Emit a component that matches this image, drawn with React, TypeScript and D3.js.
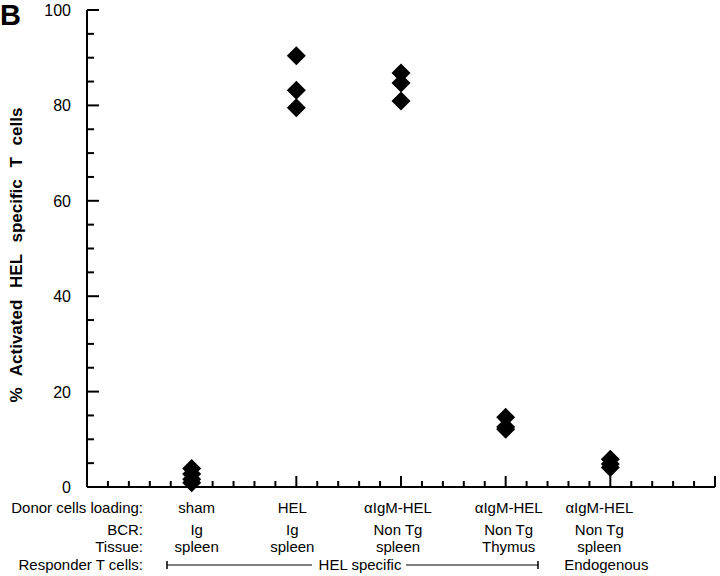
import React from "react";
import * as d3 from "d3";

// ---- data ----
const groupPositions = [5, 10, 15, 20, 25];
const donorLoading = ["sham", "HEL", "αIgM-HEL", "αIgM-HEL", "αIgM-HEL"];
const bcr = ["Ig", "Ig", "Non Tg", "Non Tg", "Non Tg"];
const tissue = ["spleen", "spleen", "spleen", "Thymus", "spleen"];
const shamValues = [3.9, 2.7, 1.6, 0.9];
const helValues = [90.4, 83.2, 79.5];
const antiIgmSpleenValues = [86.8, 84.7, 80.9];
const antiIgmThymusValues = [14.6, 12.6, 12.1];
const endogenousValues = [5.8, 4.8, 4.1];
const groupValues = [shamValues, helValues, antiIgmSpleenValues, antiIgmThymusValues, endogenousValues];
const yMajorTicks = [0, 20, 40, 60, 80, 100];
const rowLabels = ["Donor cells loading:", "BCR:", "Tissue:", "Responder T cells:"];

// ---- layout ----
const W = 720;
const H = 576;
const x = d3.scaleLinear().domain([0, 30]).range([87, 715]);
const y = d3.scaleLinear().domain([0, 100]).range([487, 10]);
const labelNudge = [5, -4, -3, 3, -11];
const rowBaselines = [513, 535, 552, 570];
const FONT = "'Liberation Sans', Arial, Helvetica, sans-serif";
const R = 9.5;
const diamond = `M0,${-R}L${R},0L0,${R}L${-R},0Z`;

export default function App() {
  const xMinor = d3.range(1, 31);
  const yMinor = d3.range(5, 101, 5);
  const respY = rowBaselines[3] - 5;
  return (
    <svg
      width={W}
      height={H}
      style={{ position: "absolute", left: 0, top: 0, background: "#fff" }}
      fontFamily={FONT}
    >
      <rect width={W} height={H} fill="#fff" />
      {/* panel label */}
      <text x={0} y={25} fontSize={29} fontWeight="bold">B</text>

      {/* y axis */}
      <line x1={x(0)} x2={x(0)} y1={y(100)} y2={y(0)} stroke="#000" strokeWidth={2} />
      {yMinor.map((v) => (
        <line
          key={"ym" + v}
          x1={x(0)}
          x2={x(0) + (v % 20 === 0 ? 12 : 7)}
          y1={y(v)}
          y2={y(v)}
          stroke="#000"
          strokeWidth={2}
        />
      ))}
      {yMajorTicks.map((v) => (
        <text key={"yl" + v} x={71} y={y(v) + 6} fontSize={16} textAnchor="end">
          {v}
        </text>
      ))}
      <text
        transform={`translate(22,${255}) rotate(-90)`}
        fontSize={17}
        fontWeight="bold"
        textAnchor="middle"
        wordSpacing={7}
      >
        % Activated HEL specific T cells
      </text>

      {/* x axis */}
      <line x1={x(0)} x2={x(30)} y1={y(0)} y2={y(0)} stroke="#000" strokeWidth={2} />
      {xMinor.map((v) => (
        <line
          key={"xm" + v}
          x1={x(v)}
          x2={x(v)}
          y1={y(0)}
          y2={y(0) - (v % 5 === 0 ? 11 : 6)}
          stroke="#000"
          strokeWidth={2}
        />
      ))}

      {/* points */}
      {groupValues.map((vals, gi) =>
        vals.map((v, i) => (
          <path
            key={`p${gi}-${i}`}
            d={diamond}
            transform={`translate(${x(groupPositions[gi])},${y(v)})`}
            fill="#000"
          />
        ))
      )}

      {/* row labels */}
      {rowLabels.map((t, i) => (
        <text key={"rl" + i} x={143} y={rowBaselines[i]} fontSize={15} textAnchor="end">
          {t}
        </text>
      ))}
      {groupPositions.map((p, i) => (
        <g key={"cl" + i} fontSize={15} textAnchor="middle">
          <text x={x(p) + labelNudge[i]} y={rowBaselines[0]}>{donorLoading[i]}</text>
          <text x={x(p) + labelNudge[i]} y={rowBaselines[1]}>{bcr[i]}</text>
          <text x={x(p) + labelNudge[i]} y={rowBaselines[2]}>{tissue[i]}</text>
        </g>
      ))}

      {/* responder bracket */}
      <line x1={167} x2={167} y1={respY - 4} y2={respY + 4} stroke="#000" strokeWidth={1.5} />
      <line x1={167} x2={312} y1={respY} y2={respY} stroke="#000" strokeWidth={1.2} />
      <text x={360} y={rowBaselines[3]} fontSize={15} textAnchor="middle">HEL specific</text>
      <line x1={406} x2={538} y1={respY} y2={respY} stroke="#000" strokeWidth={1.2} />
      <line x1={538} x2={538} y1={respY - 4} y2={respY + 4} stroke="#000" strokeWidth={1.5} />
      <text x={x(25) - 4} y={rowBaselines[3]} fontSize={15} textAnchor="middle">Endogenous</text>
    </svg>
  );
}
